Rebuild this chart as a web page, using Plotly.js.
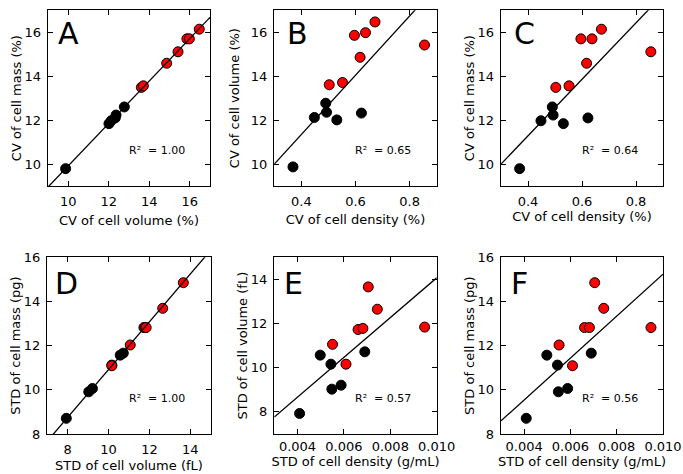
<!DOCTYPE html>
<html>
<head>
<meta charset="utf-8">
<script src="https://cdn.plot.ly/plotly-3.0.1.min.js"></script>
<style>html,body{margin:0;padding:0;background:#fff;}#chart{width:683px;height:474px;}</style>
</head>
<body>
<div id="chart"></div>
<script>
// ---- data ----
const cvDensityBlack = [0.369, 0.448, 0.490, 0.493, 0.531, 0.622];
const cvVolumeBlack  = [9.87, 12.12, 12.77, 12.36, 12.01, 12.32];
const cvMassBlack    = [9.79, 11.97, 12.60, 12.23, 11.84, 12.10];
const cvDensityRed   = [0.503, 0.552, 0.596, 0.617, 0.637, 0.672, 0.855];
const cvVolumeRed    = [13.61, 13.71, 15.86, 14.86, 15.98, 16.47, 15.42];
const cvMassRed      = [13.49, 13.56, 15.70, 14.59, 15.70, 16.14, 15.11];

const sdDensityBlack = [0.00409, 0.00498, 0.00544, 0.00548, 0.00588, 0.00690];
const sdVolumeBlack  = [7.93, 10.57, 10.16, 9.03, 9.21, 10.72];
const sdMassBlack    = [8.71, 11.57, 11.12, 9.91, 10.06, 11.66];
const sdDensityRed   = [0.00551, 0.00609, 0.00661, 0.00682, 0.00705, 0.00744, 0.00948];
const sdVolumeRed    = [11.06, 10.16, 11.73, 11.78, 13.66, 12.65, 11.84];
const sdMassRed      = [12.03, 11.09, 12.82, 12.82, 14.85, 13.69, 12.82];

// regression lines (slope, intercept)
const fitSlope     = [0.966, 13.49, 12.86, 1.081, 900, 948.6];
const fitIntercept = [0.258, 5.95, 6.14, 0.108, 5.07, 5.75];
const rSquared     = ["1.00", "0.65", "0.64", "1.00", "0.57", "0.56"];
const panelLetters = ["A", "B", "C", "D", "E", "F"];
const xTitles = ["CV of cell volume (%)", "CV of cell density (%)", "CV of cell density (%)",
                 "STD of cell volume (fL)", "STD of cell density (g/mL)", "STD of cell density (g/mL)"];
const yTitles = ["CV of cell mass (%)", "CV of cell volume (%)", "CV of cell mass (%)",
                 "STD of cell mass (pg)", "STD of cell volume (fL)", "STD of cell mass (pg)"];

const panelData = [
  {xb: cvVolumeBlack,  yb: cvMassBlack,   xr: cvVolumeRed,  yr: cvMassRed},
  {xb: cvDensityBlack, yb: cvVolumeBlack, xr: cvDensityRed, yr: cvVolumeRed},
  {xb: cvDensityBlack, yb: cvMassBlack,   xr: cvDensityRed, yr: cvMassRed},
  {xb: sdVolumeBlack,  yb: sdMassBlack,   xr: sdVolumeRed,  yr: sdMassRed},
  {xb: sdDensityBlack, yb: sdVolumeBlack, xr: sdDensityRed, yr: sdVolumeRed},
  {xb: sdDensityBlack, yb: sdMassBlack,   xr: sdDensityRed, yr: sdMassRed}
];

// ---- layout geometry ----
const W = 683, H = 474;
const px = [[48, 210], [274.3, 436.7], [501, 663], [47.3, 210.7], [274.3, 436.7], [501, 663]];
const py = [[10.3, 186], [10.3, 186], [10.3, 186], [257.3, 434], [257.3, 434], [257.3, 434]];
const xRanges = [[9, 17], [0.3, 0.9], [0.3, 0.9], [7, 15], [0.003, 0.010], [0.003, 0.010]];
const yRanges = [[9, 17], [9, 17], [9, 17], [8, 16], [7, 15], [8, 16]];
const xTicks = [[10, 12, 14, 16], [0.4, 0.6, 0.8], [0.4, 0.6, 0.8], [8, 10, 12, 14],
                [0.004, 0.006, 0.008, 0.010], [0.004, 0.006, 0.008, 0.010]];
const yTicks = [[10, 12, 14, 16], [10, 12, 14, 16], [10, 12, 14, 16], [8, 10, 12, 14, 16],
                [8, 10, 12, 14], [8, 10, 12, 14, 16]];
const xFormats = ["d", ".1f", ".1f", "d", ".3f", ".3f"];
const xLabelGap = [3, 3, 3, 3, 0, 0];
const xStandoff = [7.5, 7, 3, 5, 0, 0];
const yStandoff = [0, 8, 0, 0, 0, 0];
const letterX = [0.051, 0.068, 0.065, 0.034, 0.048, 0.048];

const FONT = "DejaVu Sans, Verdana, sans-serif";
const traces = [];
const layout = {
  width: W, height: H,
  margin: {l: 0, r: 0, t: 0, b: 0},
  paper_bgcolor: "#fff", plot_bgcolor: "#fff",
  showlegend: false,
  font: {family: FONT, size: 13, color: "#000"},
  annotations: []
};

for (let i = 0; i < 6; i++) {
  const n = i === 0 ? "" : String(i + 1);
  const xa = "x" + n, ya = "y" + n;
  const d = panelData[i];
  traces.push({type: "scatter", mode: "markers", x: d.xb, y: d.yb, xaxis: xa, yaxis: ya,
    marker: {size: 10, color: "#000", line: {color: "#000", width: 1}}, hoverinfo: "skip"});
  traces.push({type: "scatter", mode: "markers", x: d.xr, y: d.yr, xaxis: xa, yaxis: ya,
    marker: {size: 10, color: "#ff0000", line: {color: "#000", width: 1}}, hoverinfo: "skip"});
  const lx = xRanges[i];
  traces.push({type: "scatter", mode: "lines", x: lx, y: lx.map(v => fitSlope[i] * v + fitIntercept[i]),
    xaxis: xa, yaxis: ya, line: {color: "#000", width: 1.3}, hoverinfo: "skip"});

  const common = {showline: true, mirror: "ticks", linecolor: "#000", linewidth: 1.3,
    ticks: "inside", ticklen: 5, tickwidth: 1, tickcolor: "#000", showgrid: false, zeroline: false,
    tickfont: {family: FONT, size: 13, color: "#000"}, fixedrange: true};
  layout["xaxis" + n] = Object.assign({}, common, {
    domain: [px[i][0] / W, px[i][1] / W], anchor: ya, range: xRanges[i],
    tickmode: "array", tickvals: xTicks[i], tickformat: xFormats[i], ticklabelstandoff: xLabelGap[i],
    title: {text: xTitles[i], font: {family: FONT, size: 13, color: "#000"}, standoff: xStandoff[i]}
  });
  layout["yaxis" + n] = Object.assign({}, common, {
    domain: [1 - py[i][1] / H, 1 - py[i][0] / H], anchor: xa, range: yRanges[i],
    tickmode: "array", tickvals: yTicks[i], tickformat: "d", ticklabelstandoff: 3,
    title: {text: yTitles[i], font: {family: FONT, size: 13, color: "#000"}, standoff: yStandoff[i]}
  });
  layout.annotations.push({xref: xa + " domain", yref: ya + " domain", x: letterX[i],
    y: i < 3 ? 0.869 : 0.853, xanchor: "left", yanchor: "middle", showarrow: false,
    text: panelLetters[i], font: {family: FONT, size: 30, color: "#000"}});
  layout.annotations.push({xref: xa + " domain", yref: ya + " domain", x: 0.67, y: 0.2,
    xanchor: "center", yanchor: "middle", showarrow: false,
    text: "R\u00B2  = " + rSquared[i], font: {family: FONT, size: 11, color: "#000"}});
}

Plotly.newPlot("chart", traces, layout, {staticPlot: true, displayModeBar: false});
</script>
</body>
</html>
